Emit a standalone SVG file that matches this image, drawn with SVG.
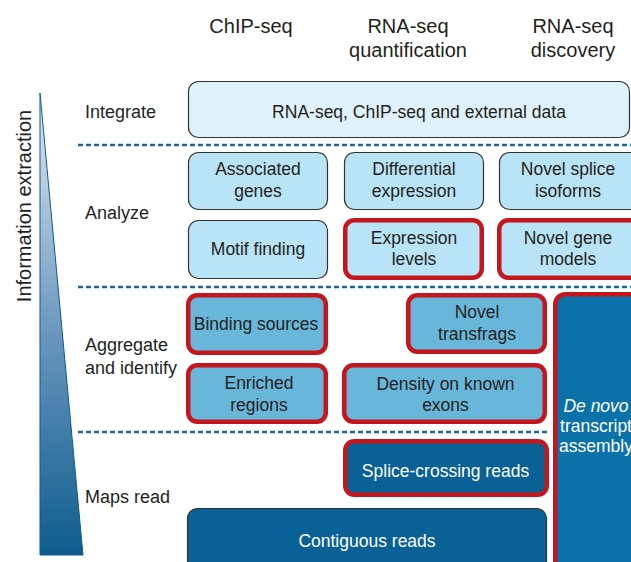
<svg xmlns="http://www.w3.org/2000/svg" width="631" height="562" viewBox="0 0 631 562">
<defs>
<linearGradient id="tri" x1="0" y1="0" x2="0" y2="1">
<stop offset="0" stop-color="#e2eaf3"/>
<stop offset="0.5" stop-color="#6e99c0"/>
<stop offset="1" stop-color="#0e5c8e"/>
</linearGradient>
<style>
text{font-family:"Liberation Sans",Arial,sans-serif;fill:#231f20}
.hdr{font-size:20px;text-anchor:middle}
.lbl{font-size:18px}
.bt{font-size:17.5px;text-anchor:middle}
.wt{font-size:17.5px;text-anchor:middle;fill:#ffffff}
.dash{stroke:#1d6796;stroke-width:2.4;stroke-dasharray:5 3;fill:none}
.pale{fill:#dff1fa;stroke:#333;stroke-width:1.2}
.light{fill:#b9e3f6;stroke:#333;stroke-width:1.2}
.lightr{fill:#b9e3f6;stroke:#c4161c;stroke-width:4.5}
.medr{fill:#68b6d9;stroke:#c4161c;stroke-width:4.5}
.darkr{fill:#0a6195;stroke:#c4161c;stroke-width:4.5}
.dark{fill:#0a6195;stroke:#333;stroke-width:1.2}
.denovo{fill:#0b71a9;stroke:#c4161c;stroke-width:4.5}
</style>
</defs>
<rect width="631" height="562" fill="#ffffff"/>

<g id="axis">
<polygon points="40,93 40,555 83,555" fill="url(#tri)" stroke="#0e5c8e" stroke-width="1"/>
<text transform="translate(31,206) rotate(-90)" style="font-size:20px;text-anchor:middle">Information extraction</text>
</g>

<g id="headers">
<text class="hdr" x="251" y="33">ChIP-seq</text>
<text class="hdr" x="408" y="33">RNA-seq</text>
<text class="hdr" x="408" y="57">quantification</text>
<text class="hdr" x="573" y="33">RNA-seq</text>
<text class="hdr" x="573" y="57">discovery</text>
</g>

<g id="levels">
<text class="lbl" x="85" y="118">Integrate</text>
<text class="lbl" x="85" y="219">Analyze</text>
<text class="lbl" x="85" y="351">Aggregate</text>
<text class="lbl" x="85" y="374">and identify</text>
<text class="lbl" x="85" y="503">Maps read</text>
</g>

<g id="separators">
<line class="dash" x1="78" y1="145" x2="631" y2="145"/>
<line class="dash" x1="78" y1="287" x2="631" y2="287"/>
<line class="dash" x1="78" y1="432" x2="548" y2="432"/>
</g>

<g id="integrate">
<rect class="pale" x="188.5" y="81.5" width="441" height="56" rx="10"/>
<text class="bt" x="419" y="118">RNA-seq, ChIP-seq and external data</text>
</g>

<g id="associated-genes">
<rect class="light" x="188.5" y="152.5" width="139" height="57" rx="10"/>
<text class="bt" x="258" y="175">Associated</text>
<text class="bt" x="258" y="197">genes</text>
</g>
<g id="differential-expression">
<rect class="light" x="344.5" y="152.5" width="139" height="57" rx="10"/>
<text class="bt" x="414" y="175">Differential</text>
<text class="bt" x="414" y="197">expression</text>
</g>
<g id="novel-splice-isoforms">
<rect class="light" x="499.5" y="152.5" width="200" height="57" rx="10"/>
<text class="bt" x="568" y="175">Novel splice</text>
<text class="bt" x="568" y="197">isoforms</text>
</g>

<g id="motif-finding">
<rect class="light" x="188.5" y="220.5" width="139" height="58" rx="10"/>
<text class="bt" x="258" y="255">Motif finding</text>
</g>
<g id="expression-levels">
<rect class="lightr" x="345.25" y="220.25" width="136.5" height="57.5" rx="9"/>
<text class="bt" x="414" y="244">Expression</text>
<text class="bt" x="414" y="265">levels</text>
</g>
<g id="novel-gene-models">
<rect class="lightr" x="499.25" y="220.25" width="200" height="57.5" rx="9"/>
<text class="bt" x="568" y="244">Novel gene</text>
<text class="bt" x="568" y="265">models</text>
</g>

<g id="binding-sources">
<rect class="medr" x="188.25" y="295.25" width="137.5" height="57.5" rx="9"/>
<text class="bt" x="256" y="330">Binding sources</text>
</g>
<g id="novel-transfrags">
<rect class="medr" x="408.25" y="295.25" width="136.5" height="56.5" rx="9"/>
<text class="bt" x="477" y="318">Novel</text>
<text class="bt" x="477" y="340">transfrags</text>
</g>
<g id="enriched-regions">
<rect class="medr" x="188.25" y="365.25" width="137.5" height="56.5" rx="9"/>
<text class="bt" x="259" y="389">Enriched</text>
<text class="bt" x="259" y="411">regions</text>
</g>
<g id="density-on-known-exons">
<rect class="medr" x="344.25" y="365.25" width="200.5" height="56.5" rx="9"/>
<text class="bt" x="445.5" y="390">Density on known</text>
<text class="bt" x="445.5" y="411">exons</text>
</g>

<g id="de-novo-assembly">
<rect class="denovo" x="555.25" y="294.25" width="200" height="300" rx="10"/>
<text class="wt" x="596" y="412"><tspan font-style="italic">De novo</tspan></text>
<text class="wt" x="596" y="432">transcript</text>
<text class="wt" x="596" y="452">assembly</text>
</g>

<g id="splice-crossing-reads">
<rect class="darkr" x="345.25" y="441.25" width="201.5" height="53.5" rx="9"/>
<text class="wt" x="445.5" y="477">Splice-crossing reads</text>
</g>
<g id="contiguous-reads">
<rect class="dark" x="187.5" y="508.5" width="359" height="80" rx="10"/>
<text class="wt" x="367" y="547">Contiguous reads</text>
</g>

<g id="connectors"></g>
</svg>
